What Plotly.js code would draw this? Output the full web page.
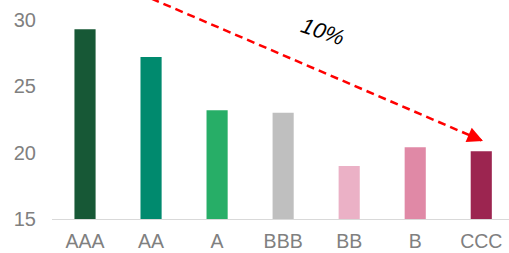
<!DOCTYPE html>
<html><head><meta charset="utf-8">
<script src="https://cdn.plot.ly/plotly-3.0.1.min.js"></script>
<style>html,body{margin:0;padding:0;background:#fff}#chart{width:509px;height:253px}</style>
</head><body><div id="chart"></div>
<script>
const categories = ["AAA","AA","A","BBB","BB","B","CCC"];
const values = [29.3, 27.2, 23.2, 23.0, 19.0, 20.4, 20.1];
const colors = ["#175836","#008a6e","#27ae67","#bfbfbf","#ebb1c6","#e089a6","#9c2550"];
const yTicks = [15, 20, 25, 30];
const arrowLabel = "10%";

const trace = {
  type: "bar", x: categories, y: values, width: 0.32,
  marker: {color: colors}, hoverinfo: "skip"
};
const layout = {
  width: 509, height: 253,
  margin: {l: 52, r: 0, t: 0, b: 34},
  paper_bgcolor: "#fff", plot_bgcolor: "#fff",
  showlegend: false,
  font: {family: "Liberation Sans, Arial, sans-serif", size: 19, color: "#808080"},
  xaxis: {type: "category", range: [-0.5, 6.42], showgrid: false, zeroline: false,
    showline: true, linecolor: "#d9d9d9", linewidth: 1, ticks: "", ticklabelstandoff: 5,
    tickfont: {size: 19.5, color: "#808080"}},
  yaxis: {range: [15, 31.5], tickvals: yTicks, ticktext: yTicks.map(String), showgrid: false,
    zeroline: false, showline: false, ticks: "", ticklabelstandoff: 15,
    tickfont: {size: 20, color: "#808080"}},
  annotations: [
    {xref: "paper", yref: "paper", x: 431/457, y: (219-141)/219, ax: 98/457, ay: (219+2)/219,
     axref: "paper", ayref: "paper", text: "", showarrow: true, arrowhead: 2, arrowsize: 1.25,
     arrowwidth: 2.5, arrowcolor: "#ff0000"},
    {xref: "paper", yref: "paper", x: (323-52)/457, y: (219-31)/219, yanchor: "middle", xanchor: "center",
     text: arrowLabel, showarrow: false, textangle: 19,
     font: {family: "Liberation Sans, Arial, sans-serif", size: 22, color: "#000"}}
  ]
};
Plotly.newPlot("chart", [trace], layout, {displayModeBar: false, staticPlot: true}).then(function(){
  document.querySelectorAll(".annotation-arrow-g path").forEach(function(p, i){
    if (i === 0) p.style.strokeDasharray = "8,5";
  });
  document.querySelectorAll(".annotation-text").forEach(function(t){ t.style.fontStyle = "italic"; });
});
</script></body></html>
